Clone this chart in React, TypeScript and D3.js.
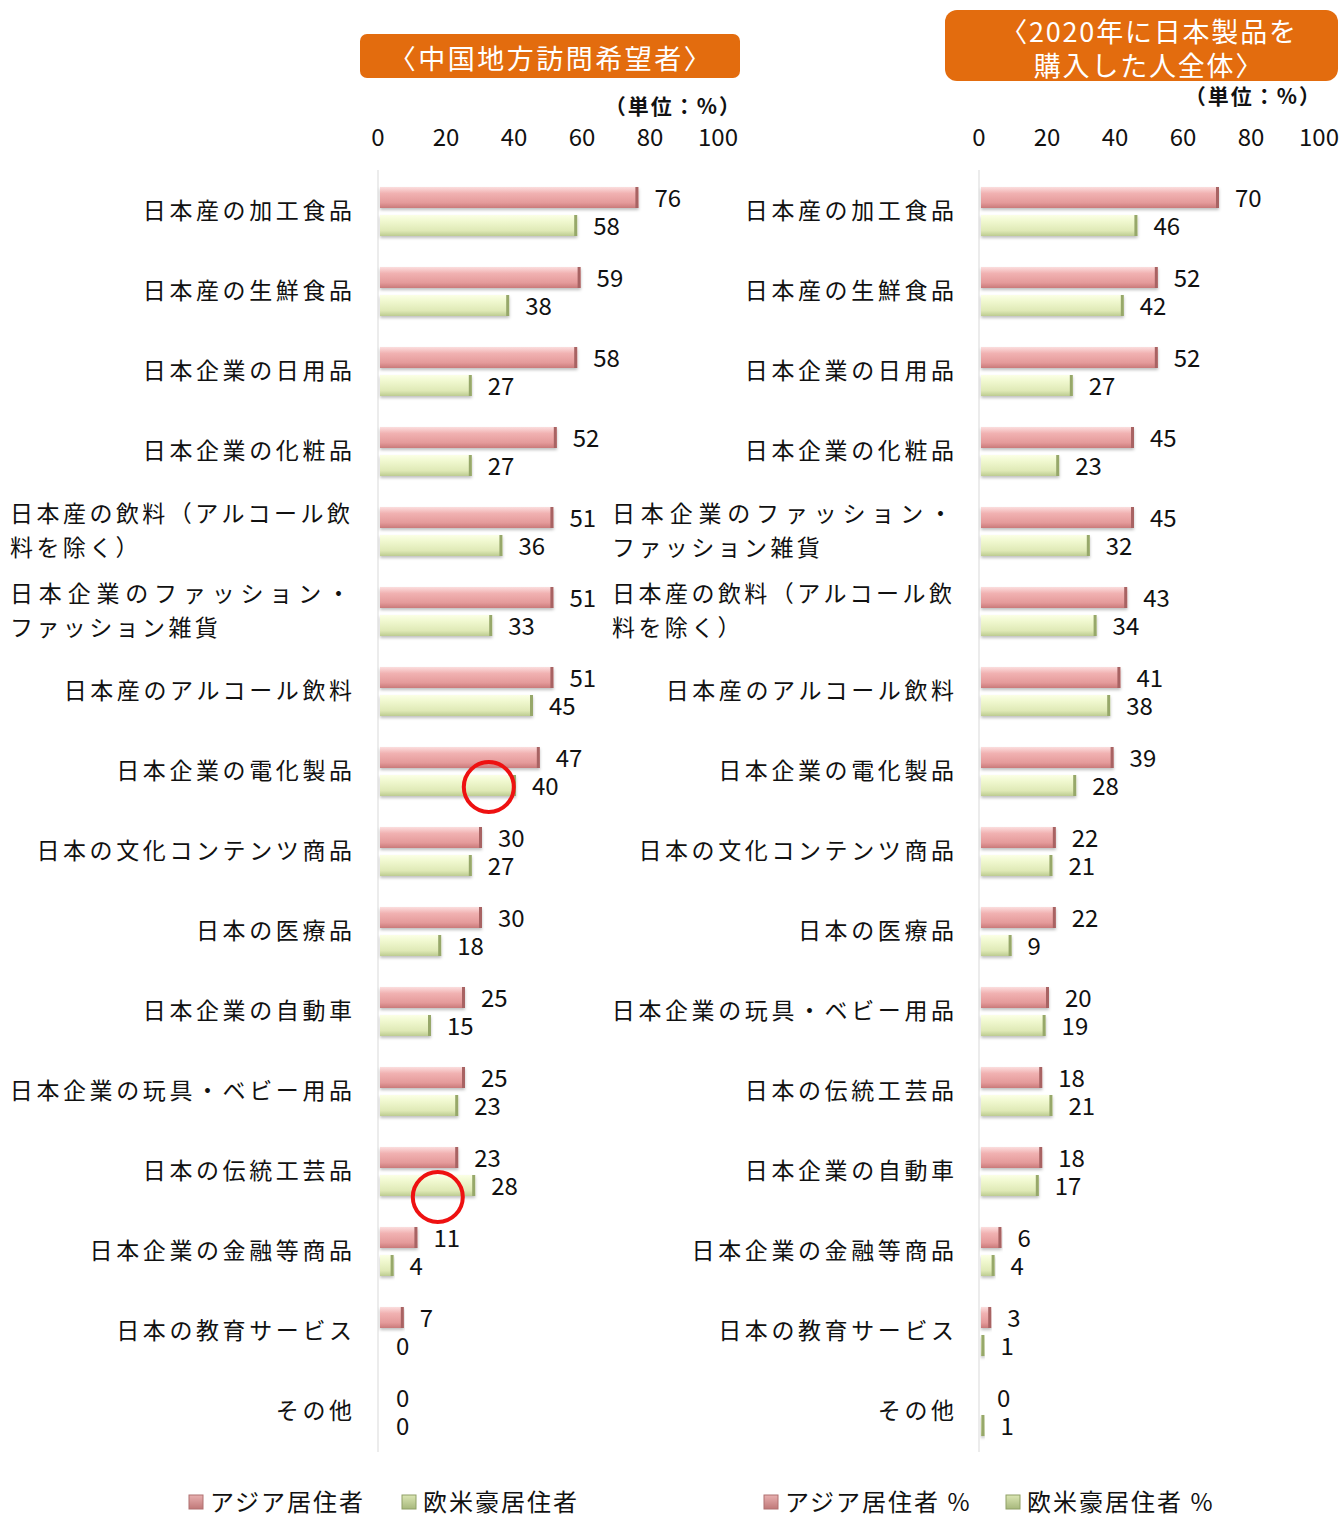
import React from "react";
import * as d3 from "d3";

const categoriesLeft = [
  "日本産の加工食品", "日本産の生鮮食品", "日本企業の日用品", "日本企業の化粧品",
  "日本産の飲料（アルコール飲|料を除く）", "日本企業のファッション・|ファッション雑貨",
  "日本産のアルコール飲料", "日本企業の電化製品", "日本の文化コンテンツ商品", "日本の医療品",
  "日本企業の自動車", "日本企業の玩具・ベビー用品", "日本の伝統工芸品", "日本企業の金融等商品",
  "日本の教育サービス", "その他",
];
const asiaLeft = [76, 59, 58, 52, 51, 51, 51, 47, 30, 30, 25, 25, 23, 11, 7, 0];
const westLeft = [58, 38, 27, 27, 36, 33, 45, 40, 27, 18, 15, 23, 28, 4, 0, 0];

const categoriesRight = [
  "日本産の加工食品", "日本産の生鮮食品", "日本企業の日用品", "日本企業の化粧品",
  "日本企業のファッション・|ファッション雑貨", "日本産の飲料（アルコール飲|料を除く）",
  "日本産のアルコール飲料", "日本企業の電化製品", "日本の文化コンテンツ商品", "日本の医療品",
  "日本企業の玩具・ベビー用品", "日本の伝統工芸品", "日本企業の自動車", "日本企業の金融等商品",
  "日本の教育サービス", "その他",
];
const asiaRight = [70, 52, 52, 45, 45, 43, 41, 39, 22, 22, 20, 18, 18, 6, 3, 0];
const westRight = [46, 42, 27, 23, 32, 34, 38, 28, 21, 9, 19, 21, 17, 4, 1, 1];

const tickValues = [0, 20, 40, 60, 80, 100];
const titleLeft = ["〈中国地方訪問希望者〉"];
const titleRight = ["〈2020年に日本製品を", "購入した人全体〉"];
const unitLabel = "（単位：%）";
const legendLeft = ["アジア居住者", "欧米豪居住者"];
const legendRight = ["アジア居住者 %", "欧米豪居住者 %"];
// annotation circles (left chart): row index, value, offset from row center
const annotations = [
  { row: 7, value: 32, dy: 16 },
  { row: 12, value: 17, dy: 26 },
];

const FONT = "'Noto Sans CJK JP', 'Noto Sans', sans-serif";

type PanelProps = {
  cats: string[];
  asia: number[];
  west: number[];
  x0: number;
  labelRight: number;
  labelLeft: number;
  withAnn?: boolean;
};

function Panel({ cats, asia, west, x0, labelRight, labelLeft, withAnn }: PanelProps) {
  const x = d3.scaleLinear().domain([0, 100]).range([x0, x0 + 340]);
  const y = d3.scaleBand<number>().domain(d3.range(cats.length)).range([171, 171 + 80 * cats.length]);
  const cy = (i: number) => (y(i) as number) + y.bandwidth() / 2;
  return (
    <g>
      <line x1={x(0) - 2} x2={x(0) - 2} y1={170} y2={1452} stroke="#ececec" strokeWidth={2} />
      {tickValues.map((t) => (
        <text key={t} x={x(t) - 2} y={135} textAnchor="middle" dominantBaseline="central" fontSize={24} fill="#111">
          {t}
        </text>
      ))}
      {cats.map((c, i) => {
        const parts = c.split("|");
        const c0 = cy(i);
        return (
          <g key={c}>
            {parts.length === 1 ? (
              <text x={labelRight + 3.6} y={c0 - 2} textAnchor="end" dominantBaseline="central" fontSize={23} letterSpacing={3.6} fill="#111">
                {c}
              </text>
            ) : (
              <>
                <text x={labelLeft} y={c0 - 19} textAnchor="start" dominantBaseline="central" fontSize={23} textLength={labelRight - labelLeft - 2} lengthAdjust="spacing" fill="#111">
                  {parts[0]}
                </text>
                <text x={labelLeft} y={c0 + 15} textAnchor="start" dominantBaseline="central" fontSize={23} letterSpacing={3.4} fill="#111">
                  {parts[1]}
                </text>
              </>
            )}
            {asia[i] > 0 && (
              <g filter="url(#shadow)">
                <rect x={x(0)} y={c0 - 24} width={x(asia[i]) - x(0)} height={21} fill="url(#gRed)" />
                <rect x={x(asia[i]) - 3} y={c0 - 24} width={3} height={21} fill="#a86464" />
              </g>
            )}
            {west[i] > 0 && (
              <g filter="url(#shadow)">
                <rect x={x(0)} y={c0 + 4} width={x(west[i]) - x(0)} height={21} fill="url(#gGreen)" />
                <rect x={x(west[i]) - 3} y={c0 + 4} width={3} height={21} fill="#97a86a" />
              </g>
            )}
            <text x={x(asia[i]) + 16} y={c0 - 15} dominantBaseline="central" fontSize={24} fill="#111">
              {asia[i]}
            </text>
            <text x={x(west[i]) + 16} y={c0 + 13} dominantBaseline="central" fontSize={24} fill="#111">
              {west[i]}
            </text>
          </g>
        );
      })}
      {withAnn &&
        annotations.map((a, k) => (
          <circle key={k} cx={x(a.value)} cy={cy(a.row) + a.dy} r={25} fill="none" stroke="#ee1111" strokeWidth={4} />
        ))}
    </g>
  );
}

function Legend({ x1, x2, labels }: { x1: number; x2: number; labels: string[] }) {
  const yc = 1500;
  return (
    <g>
      <rect x={x1} y={yc - 5} width={14} height={14} fill="url(#gRedL)" stroke="#b07070" strokeWidth={1} />
      <text x={x1 + 21} y={yc} dominantBaseline="central" fontSize={24} letterSpacing={2} fill="#111">{labels[0]}</text>
      <rect x={x2} y={yc - 5} width={14} height={14} fill="url(#gGreenL)" stroke="#8fa066" strokeWidth={1} />
      <text x={x2 + 21} y={yc} dominantBaseline="central" fontSize={24} letterSpacing={2} fill="#111">{labels[1]}</text>
    </g>
  );
}

export default function App() {
  return (
    <svg
      width={1344}
      height={1517}
      style={{ position: "absolute", left: 0, top: 0, background: "#fff", fontFamily: FONT }}
    >
      <defs>
        <linearGradient id="gRed" x1="0" y1="0" x2="0" y2="1">
          <stop offset="0" stopColor="#fbdede" />
          <stop offset="0.3" stopColor="#f1b2b2" />
          <stop offset="0.75" stopColor="#e49a9a" />
          <stop offset="1" stopColor="#c97a7a" />
        </linearGradient>
        <linearGradient id="gGreen" x1="0" y1="0" x2="0" y2="1">
          <stop offset="0" stopColor="#fbffe6" />
          <stop offset="0.3" stopColor="#f0f8cf" />
          <stop offset="0.75" stopColor="#dfe9b6" />
          <stop offset="1" stopColor="#bccb90" />
        </linearGradient>
        <linearGradient id="gRedL" x1="0" y1="0" x2="0" y2="1">
          <stop offset="0" stopColor="#e8b0b0" />
          <stop offset="1" stopColor="#c07878" />
        </linearGradient>
        <linearGradient id="gGreenL" x1="0" y1="0" x2="0" y2="1">
          <stop offset="0" stopColor="#dbe6b4" />
          <stop offset="1" stopColor="#a7b87c" />
        </linearGradient>
        <filter id="shadow" x="-5%" y="-30%" width="110%" height="170%">
          <feDropShadow dx="0" dy="2" stdDeviation="1.5" floodColor="#000" floodOpacity="0.25" />
        </filter>
      </defs>

      {/* Title boxes */}
      <rect x={360} y={34} width={380} height={44} rx={7} fill="#e36c0e" />
      {titleLeft.map((t, i) => (
        <text key={t} x={551} y={57 + i * 32} textAnchor="middle" dominantBaseline="central" fontSize={27} letterSpacing={2.5} fill="#fff">
          {t}
        </text>
      ))}
      <rect x={945} y={10} width={393} height={71} rx={12} fill="#e36c0e" />
      {titleRight.map((t, i) => (
        <text key={t} x={1149} y={30 + i * 34} textAnchor="middle" dominantBaseline="central" fontSize={27} letterSpacing={1.8} fill="#fff">
          {t}
        </text>
      ))}
      <text x={742} y={105} textAnchor="end" dominantBaseline="central" fontSize={21} fontWeight={600} letterSpacing={2} fill="#111">
        {unitLabel}
      </text>
      <text x={1322} y={95} textAnchor="end" dominantBaseline="central" fontSize={21} fontWeight={600} letterSpacing={2} fill="#111">
        {unitLabel}
      </text>

      <Panel cats={categoriesLeft} asia={asiaLeft} west={westLeft} x0={380} labelRight={352} labelLeft={10} withAnn />
      <Panel cats={categoriesRight} asia={asiaRight} west={westRight} x0={981} labelRight={954} labelLeft={612} />

      <Legend x1={189} x2={402} labels={legendLeft} />
      <Legend x1={764} x2={1006} labels={legendRight} />
    </svg>
  );
}
